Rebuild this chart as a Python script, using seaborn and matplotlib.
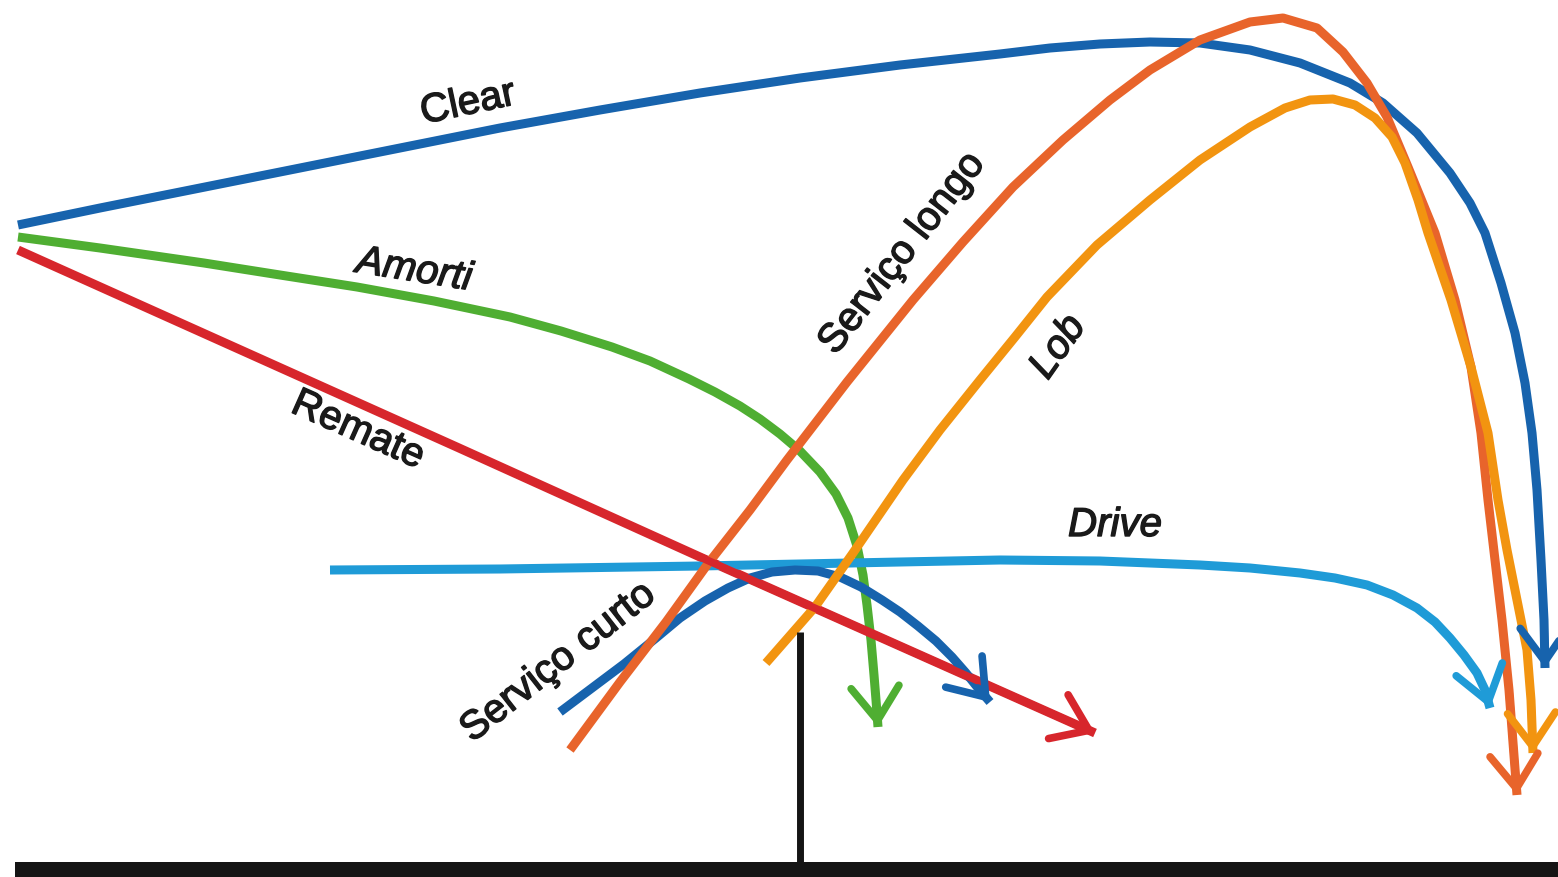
import pandas as pd
import numpy as np
import matplotlib.pyplot as plt
import matplotlib.patheffects as pe
import seaborn as sns

# Shot trajectories (pixel coords, y grows downward)
clear_x = [18, 100, 200, 300, 400, 500, 600, 700, 800, 900, 1000, 1050, 1100, 1150, 1200, 1250, 1300, 1350, 1383,
           1417, 1450, 1470, 1485, 1501, 1515, 1525, 1532, 1537, 1541, 1544, 1545]
clear_y = [225, 208, 188, 168, 148, 128, 110, 93, 78, 65, 54, 48, 44, 42, 43, 50, 63, 83, 103,
           133, 173, 203, 233, 283, 333, 383, 433, 490, 560, 620, 668]

amorti_x = [18, 100, 204, 280, 357, 434, 510, 561, 612, 650, 689, 715, 740, 760, 780, 800, 820, 836, 848, 857,
            863, 867, 871, 874, 876, 878]
amorti_y = [237, 248, 263, 275, 287, 301, 317, 331, 347, 361, 379, 392, 406, 419, 434, 451, 472, 494, 518, 546,
            575, 605, 640, 675, 700, 727]

remate_x = [18, 459, 700, 1095]
remate_y = [250, 448, 557, 733]

drive_x = [330, 500, 700, 900, 1000, 1100, 1200, 1250, 1300, 1335, 1367, 1393, 1417, 1435, 1450, 1464, 1477, 1485, 1490]
drive_y = [570, 569, 566, 562, 560, 561, 565, 568, 573, 578, 585, 595, 608, 622, 638, 655, 673, 690, 708]

curto_x = [560, 592, 624, 656, 680, 705, 728, 750, 772, 795, 818, 840, 861, 882, 900, 918, 936, 952, 966, 978, 990]
curto_y = [712, 688, 664, 638, 618, 601, 588, 578, 572, 570, 571, 577, 587, 600, 612, 626, 641, 657, 673, 688, 702]

longo_x = [570, 620, 666, 707, 750, 787, 847, 913, 963, 1013, 1063, 1110, 1150, 1200, 1250, 1283, 1317, 1343, 1367,
           1387, 1408, 1435, 1455, 1471, 1481, 1488, 1495, 1502, 1509, 1517]
longo_y = [750, 682, 622, 565, 510, 460, 382, 300, 242, 187, 140, 100, 70, 40, 22, 18, 28, 52, 83,
           117, 167, 233, 300, 367, 433, 500, 560, 620, 690, 795]

lob_x = [766, 815, 853, 903, 940, 980, 1015, 1047, 1097, 1150, 1200, 1250, 1285, 1310, 1333, 1355, 1375, 1392, 1405,
         1418, 1428, 1451, 1471, 1488, 1498, 1507, 1517, 1527, 1531, 1533]
lob_y = [663, 607, 553, 480, 430, 380, 337, 297, 245, 200, 160, 127, 108, 100, 99, 105, 118, 137, 163,
         200, 233, 300, 367, 433, 500, 550, 600, 650, 700, 753]

shots = ["Clear", "Amorti", "Remate", "Drive", "Serviço curto", "Serviço longo", "Lob"]
shot_x = [clear_x, amorti_x, remate_x, drive_x, curto_x, longo_x, lob_x]
shot_y = [clear_y, amorti_y, remate_y, drive_y, curto_y, longo_y, lob_y]
colors = ["#1763ad", "#4fae32", "#d7262c", "#1f9bd7", "#1763ad", "#e8642b", "#f29410"]

# labels: text, x, y, rotation, italic
label_text = ["Clear", "Amorti", "Remate", "Drive", "Serviço curto", "Serviço longo", "Lob"]
label_x = [468, 414, 358, 1115, 558, 902, 1058]
label_y = [103, 270, 430, 525, 662, 253, 347]
label_rot = [12, -9, -24, 0, 38, 52, 55]
label_italic = [False, True, False, True, False, False, True]

# court floor and net post
floor_x = [15, 1558]
floor_top, floor_bottom = 862, 877
net_x = 800
net_top = 632

rows = []
for name, xs, ys in zip(shots, shot_x, shot_y):
    for i, (a, b) in enumerate(zip(xs, ys)):
        rows.append({"shot": name, "x": a, "y": b, "order": i})
df = pd.DataFrame(rows)

sns.set_theme(style="white")
plt.rcParams['font.family'] = ['Liberation Sans', 'DejaVu Sans']

fig = plt.figure(figsize=(15.58, 8.77), dpi=100)
ax = fig.add_axes([0, 0, 1, 1])

sns.lineplot(data=df, x="x", y="y", hue="shot", palette=dict(zip(shots, colors)),
             sort=False, estimator=None, units="shot", legend=False, linewidth=6.5,
             solid_capstyle="butt", solid_joinstyle="round", ax=ax)

# open arrow heads at the end of each shot
for xs, ys, c in zip(shot_x, shot_y, colors):
    ax.annotate("", xy=(xs[-1], ys[-1]), xytext=(xs[-2], ys[-2]),
                arrowprops=dict(arrowstyle="->,head_length=1.05,head_width=0.75",
                                color=c, lw=5.5, shrinkA=0, shrinkB=0,
                                mutation_scale=23, joinstyle="miter"))

# net post and floor
ax.plot([net_x, net_x], [net_top, floor_top], color="#151515", lw=5, solid_capstyle="butt")
ax.fill_between(floor_x, floor_top, floor_bottom, color="#151515", lw=0)

for t, x, y, r, it in zip(label_text, label_x, label_y, label_rot, label_italic):
    ax.text(x, y, t, rotation=r, rotation_mode="anchor", ha="center", va="center",
            fontsize=29, color="#1a1a1a", style="italic" if it else "normal",
            path_effects=[pe.withStroke(linewidth=1.0, foreground="#1a1a1a")])

ax.set_xlim(0, 1558)
ax.set_ylim(877, 0)
ax.axis("off")

plt.savefig("out.png", dpi=100)
plt.close()
